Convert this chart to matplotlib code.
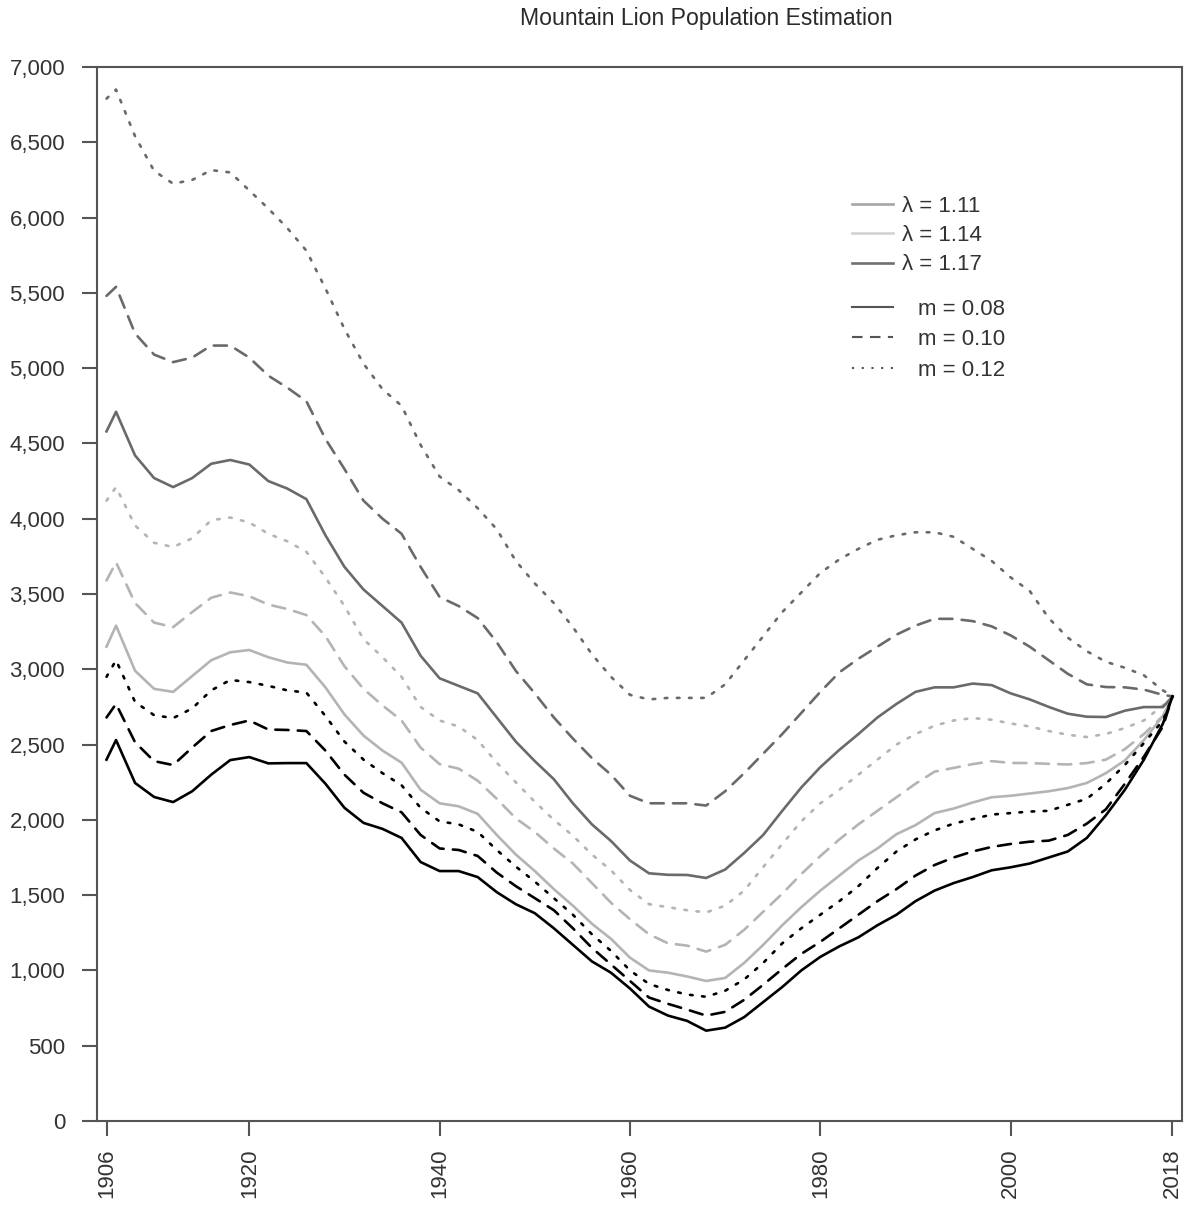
import matplotlib
matplotlib.use("Agg")
import matplotlib.pyplot as plt
from matplotlib.lines import Line2D
from matplotlib.ticker import FuncFormatter

plt.rcParams['font.family'] = ['Liberation Sans', 'DejaVu Sans']

years = [1906, 1907, 1909, 1911, 1913, 1915, 1917, 1919, 1921, 1923,
         1925, 1927, 1929, 1931, 1933, 1935, 1937, 1939, 1941, 1943,
         1945, 1947, 1949, 1951, 1953, 1955, 1957, 1959, 1961, 1963,
         1965, 1967, 1969, 1971, 1973, 1975, 1977, 1979, 1981, 1983,
         1985, 1987, 1989, 1991, 1993, 1995, 1997, 1999, 2001, 2003,
         2005, 2007, 2009, 2011, 2013, 2015, 2017, 2018]

# lambda = 1.11 (black lines)
lam111_m08 = [2400, 2530, 2245, 2152, 2118, 2190, 2300, 2397, 2417, 2375,
              2377, 2377, 2240, 2080, 1980, 1940, 1880, 1720, 1660, 1660,
              1620, 1520, 1440, 1380, 1280, 1170, 1060, 985, 880, 760,
              700, 665, 600, 620, 690, 790, 890, 1000, 1090, 1160,
              1220, 1300, 1370, 1460, 1530, 1580, 1620, 1665, 1685, 1710,
              1750, 1790, 1880, 2030, 2200, 2400, 2640, 2820]
lam111_m10 = [2680, 2770, 2515, 2390, 2364, 2480, 2590, 2630, 2660, 2600,
              2597, 2590, 2460, 2300, 2180, 2110, 2050, 1900, 1810, 1800,
              1760, 1650, 1560, 1480, 1400, 1280, 1150, 1040, 930, 820,
              778, 740, 700, 725, 805, 905, 1010, 1110, 1190, 1280,
              1370, 1460, 1540, 1630, 1700, 1750, 1790, 1820, 1840, 1855,
              1862, 1900, 1975, 2070, 2240, 2420, 2620, 2820]
lam111_m12 = [2950, 3060, 2783, 2695, 2676, 2740, 2860, 2929, 2915, 2890,
              2860, 2845, 2690, 2520, 2400, 2310, 2230, 2080, 1990, 1970,
              1920, 1800, 1690, 1590, 1480, 1370, 1240, 1130, 1000, 910,
              870, 840, 825, 865, 940, 1050, 1180, 1280, 1370, 1460,
              1560, 1680, 1790, 1870, 1930, 1975, 2005, 2035, 2045, 2055,
              2060, 2100, 2140, 2240, 2365, 2510, 2660, 2820]

# lambda = 1.14 (light grey lines)
lam114_m08 = [3150, 3290, 2990, 2870, 2850, 2955, 3060, 3113, 3128, 3080,
              3045, 3030, 2880, 2700, 2560, 2460, 2380, 2200, 2110, 2090,
              2040, 1900, 1770, 1660, 1540, 1430, 1310, 1210, 1085, 1000,
              985, 960, 930, 950, 1050, 1170, 1300, 1420, 1530, 1630,
              1730, 1810, 1905, 1965, 2045, 2075, 2115, 2150, 2160, 2175,
              2190, 2211, 2245, 2310, 2395, 2530, 2690, 2820]
lam114_m10 = [3590, 3710, 3440, 3310, 3280, 3380, 3475, 3510, 3485, 3430,
              3400, 3360, 3220, 3020, 2870, 2760, 2660, 2480, 2370, 2340,
              2260, 2140, 2010, 1920, 1810, 1710, 1580, 1450, 1340, 1240,
              1180, 1165, 1125, 1170, 1270, 1390, 1510, 1640, 1760, 1870,
              1970, 2060, 2150, 2240, 2320, 2345, 2370, 2390, 2378, 2377,
              2372, 2368, 2377, 2400, 2470, 2570, 2690, 2820]
lam114_m12 = [4120, 4210, 3955, 3840, 3812, 3870, 3990, 4008, 3975, 3900,
              3850, 3780, 3610, 3420, 3200, 3080, 2950, 2750, 2660, 2620,
              2530, 2380, 2250, 2120, 2000, 1895, 1770, 1665, 1534, 1440,
              1420, 1400, 1385, 1430, 1530, 1687, 1840, 1990, 2110, 2200,
              2300, 2400, 2500, 2570, 2625, 2660, 2676, 2665, 2640, 2620,
              2590, 2565, 2550, 2570, 2610, 2660, 2760, 2820]

# lambda = 1.17 (dark grey lines)
lam117_m08 = [4580, 4710, 4420, 4270, 4210, 4270, 4365, 4390, 4360, 4250,
              4200, 4130, 3890, 3680, 3530, 3420, 3310, 3090, 2940, 2890,
              2840, 2680, 2520, 2390, 2270, 2110, 1970, 1860, 1730, 1645,
              1635, 1634, 1614, 1670, 1780, 1900, 2060, 2215, 2350, 2465,
              2570, 2680, 2770, 2850, 2880, 2880, 2905, 2895, 2840, 2800,
              2750, 2705, 2685, 2683, 2725, 2749, 2749, 2820]
lam117_m10 = [5480, 5540, 5230, 5090, 5040, 5070, 5150, 5150, 5070, 4950,
              4870, 4780, 4530, 4330, 4120, 4000, 3900, 3680, 3480, 3420,
              3340, 3180, 2990, 2840, 2680, 2540, 2410, 2300, 2160, 2110,
              2110, 2110, 2095, 2190, 2310, 2440, 2570, 2710, 2850, 2980,
              3070, 3150, 3230, 3290, 3335, 3335, 3320, 3285, 3225, 3150,
              3060, 2970, 2900, 2882, 2880, 2865, 2830, 2820]
lam117_m12 = [6790, 6850, 6540, 6310, 6225, 6250, 6315, 6300, 6180, 6060,
              5930, 5780, 5530, 5260, 5030, 4860, 4750, 4490, 4280, 4190,
              4070, 3930, 3720, 3570, 3440, 3280, 3100, 2950, 2830, 2800,
              2810, 2810, 2810, 2900, 3060, 3220, 3380, 3510, 3640, 3730,
              3800, 3860, 3890, 3910, 3910, 3880, 3800, 3720, 3610, 3520,
              3340, 3210, 3120, 3050, 3010, 2960, 2860, 2820]

# x axis is plotted against the series index, labels sit on these positions
tick_pos = [1906, 1921, 1941, 1961, 1981, 2001, 2018]
tick_labels = ['1906', '1920', '1940', '1960', '1980', '2000', '2018']

col_black, col_light, col_dark = '#000000', '#b4b4b4', '#6a6a6a'
lw = 1.9
solid = '-'
dashed = (0, (5, 3.5))
dotted = (0, (1, 3.6))

fig = plt.figure(figsize=(11.89, 12.12), dpi=100)
ax = fig.add_axes([97 / 1189, 1 - 1121 / 1212, 1085 / 1189, 1054 / 1212])

for vals, col, ls in [(lam114_m08, col_light, solid), (lam114_m10, col_light, dashed),
                      (lam114_m12, col_light, dotted),
                      (lam117_m08, col_dark, solid), (lam117_m10, col_dark, dashed),
                      (lam117_m12, col_dark, dotted),
                      (lam111_m08, col_black, solid), (lam111_m10, col_black, dashed),
                      (lam111_m12, col_black, dotted)]:
    ax.plot(years, vals, color=col, lw=lw, linestyle=ls,
            dash_capstyle='round', solid_joinstyle='round')

ax.set_xlim(1905.0, 2019.0)
ax.set_ylim(0, 7000)
ax.set_yticks(range(0, 7001, 500))
ax.yaxis.set_major_formatter(FuncFormatter(lambda v, p: f'{int(v):,}'))
ax.set_xticks(tick_pos)
ax.set_xticklabels(tick_labels, rotation=90)

spine_col = '#555555'
for s in ax.spines.values():
    s.set_color(spine_col)
    s.set_linewidth(1.5)
ax.tick_params(axis='both', length=11, width=1.5, color=spine_col,
               labelsize=16, labelcolor='#333333')
ax.tick_params(axis='y', pad=12)
ax.tick_params(axis='x', pad=9)

fig.text(706 / 1189, 1 - 19 / 1212, 'Mountain Lion Population Estimation',
         ha='center', va='center', fontsize=16.6, color='#2a2a2a')

lam_handles = [Line2D([], [], color='#a6a6a6', lw=lw),
               Line2D([], [], color='#d2d2d2', lw=lw),
               Line2D([], [], color='#707070', lw=lw)]
lam_labels = ['λ = 1.11', 'λ = 1.14', 'λ = 1.17']
leg1 = ax.legend(lam_handles, lam_labels, loc='upper left',
                 bbox_to_anchor=(0.696, 0.878), frameon=False, fontsize=16,
                 handlelength=1.85, handletextpad=0.4, labelspacing=0.38,
                 borderpad=0, borderaxespad=0, labelcolor='#333333')
ax.add_artist(leg1)

m_handles = [Line2D([], [], color='#555555', lw=lw * 0.8, linestyle=solid),
             Line2D([], [], color='#555555', lw=lw * 0.8, linestyle=dashed),
             Line2D([], [], color='#555555', lw=lw * 0.8, linestyle=dotted)]
m_labels = ['m = 0.08', 'm = 0.10', 'm = 0.12']
ax.legend(m_handles, m_labels, loc='upper left',
          bbox_to_anchor=(0.696, 0.780), frameon=False, fontsize=16,
          handlelength=1.85, handletextpad=1.1, labelspacing=0.42,
          borderpad=0, borderaxespad=0, labelcolor='#333333')

fig.savefig('out.png', dpi=100, facecolor='white')
